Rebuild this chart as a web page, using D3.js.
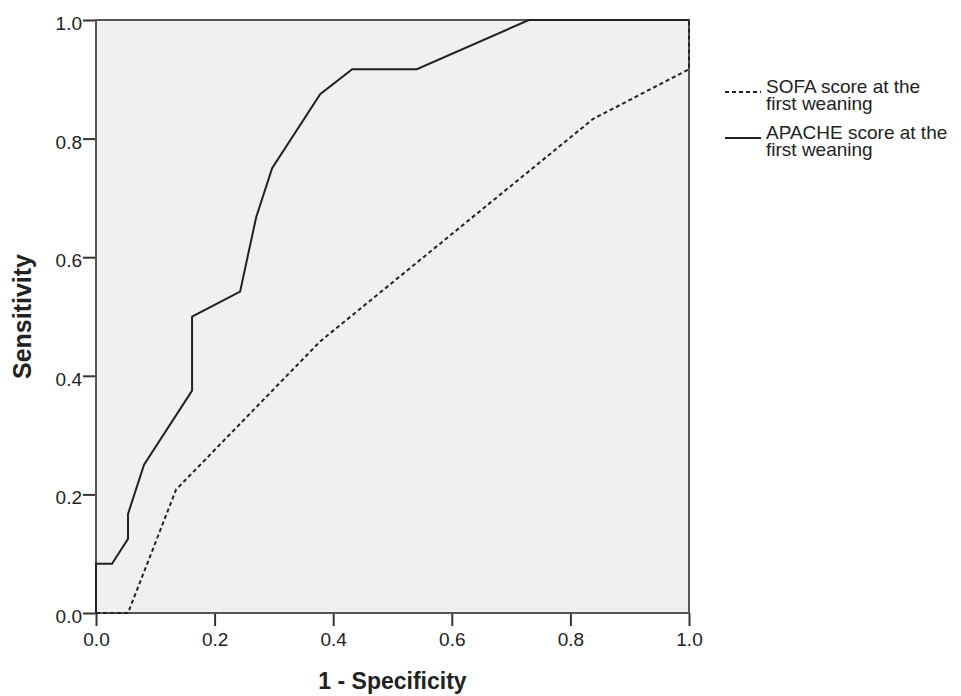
<!DOCTYPE html>
<html>
<head>
<meta charset="utf-8">
<script src="https://cdn.jsdelivr.net/npm/d3@7"></script>
<style>
  body { margin: 0; background: #fff; }
  text { font-family: "Liberation Sans", Arial, sans-serif; fill: #222; }
</style>
</head>
<body>
<div id="container"></div>
<script>
// ROC curve values (1 - specificity, sensitivity)
const sofaX = [0, 0.054, 0.135, 0.378, 0.838, 1, 1]
const sofaY = [0, 0, 0.208, 0.458, 0.833, 0.917, 1]
const apacheX = [0, 0, 0.027, 0.054, 0.054, 0.081, 0.162, 0.162, 0.243, 0.27, 0.297, 0.378, 0.432, 0.541, 0.73, 1]
const apacheY = [0, 0.083, 0.083, 0.125, 0.167, 0.25, 0.375, 0.5, 0.542, 0.667, 0.75, 0.875, 0.917, 0.917, 1, 1]
const ticks = [0, 0.2, 0.4, 0.6, 0.8, 1.0]
const legendLabels = [["SOFA score at the", "first weaning"], ["APACHE score at the", "first weaning"]]

const width = 961, height = 696
const plot = { left: 96, top: 20, size: 593 }

const svg = d3.select("#container").append("svg")
  .attr("width", width)
  .attr("height", height)

const x = d3.scaleLinear().domain([0, 1]).range([plot.left, plot.left + plot.size])
const y = d3.scaleLinear().domain([0, 1]).range([plot.top + plot.size, plot.top])

// grey plot background
svg.append("rect")
  .attr("x", x(0)).attr("y", y(1))
  .attr("width", x(1) - x(0)).attr("height", y(0) - y(1))
  .style("fill", "#f0f0f0")

// axes (ticks outside, labels formatted with one decimal)
const xAxis = svg.append("g")
  .attr("transform", "translate(0," + y(0) + ")")
  .call(d3.axisBottom(x).tickValues(ticks).tickFormat(d3.format(".1f")).tickSize(13).tickPadding(7))
const yAxis = svg.append("g")
  .attr("transform", "translate(" + x(0) + ",0)")
  .call(d3.axisLeft(y).tickValues(ticks).tickFormat(d3.format(".1f")).tickSize(13).tickPadding(1))

for (const g of [xAxis, yAxis]) {
  g.select(".domain").remove()
  g.selectAll(".tick line").style("stroke", "#333").style("stroke-width", 2)
  g.selectAll(".tick text").style("font-size", "19px").style("fill", "#222")
    .style("font-family", "'Liberation Sans', Arial, sans-serif")
}
// y labels sit a little below their tick in the original
yAxis.selectAll(".tick text").attr("dy", "0.5em")

// plot frame
svg.append("rect")
  .attr("x", x(0)).attr("y", y(1))
  .attr("width", x(1) - x(0)).attr("height", y(0) - y(1))
  .style("fill", "none").style("stroke", "#555").style("stroke-width", 2)

const line = d3.line().x(d => x(d[0])).y(d => y(d[1]))

svg.append("path")
  .datum(d3.zip(sofaX, sofaY))
  .attr("d", line)
  .style("fill", "none").style("stroke", "#222").style("stroke-width", 2)
  .style("stroke-dasharray", "4,3")

svg.append("path")
  .datum(d3.zip(apacheX, apacheY))
  .attr("d", line)
  .style("fill", "none").style("stroke", "#222").style("stroke-width", 2)

// axis titles
svg.append("text")
  .attr("x", (x(0) + x(1)) / 2).attr("y", 689)
  .attr("text-anchor", "middle")
  .style("font-size", "23px").style("font-weight", "bold")
  .text("1 - Specificity")

svg.append("text")
  .attr("transform", "translate(31," + (y(0) + y(1)) / 2 + ") rotate(-90)")
  .attr("text-anchor", "middle")
  .style("font-size", "25px").style("font-weight", "bold")
  .text("Sensitivity")

// legend: one wrapped text per entry
const legend = svg.append("g").attr("transform", "translate(725,92)")
legendLabels.forEach((lines, i) => {
  const g = legend.append("g").attr("transform", "translate(0," + i * 46 + ")")
  g.append("line")
    .attr("x1", 0).attr("x2", 36).attr("y1", 0).attr("y2", 0)
    .style("stroke", "#222").style("stroke-width", 2)
    .style("stroke-dasharray", i === 0 ? "4,3" : null)
  g.append("text")
    .attr("y", 1)
    .style("font-size", "19px")
    .selectAll("tspan").data(lines).enter().append("tspan")
      .attr("x", 41)
      .attr("dy", (d, j) => j === 0 ? 0 : 17)
      .text(d => d)
})
</script>
</body>
</html>
